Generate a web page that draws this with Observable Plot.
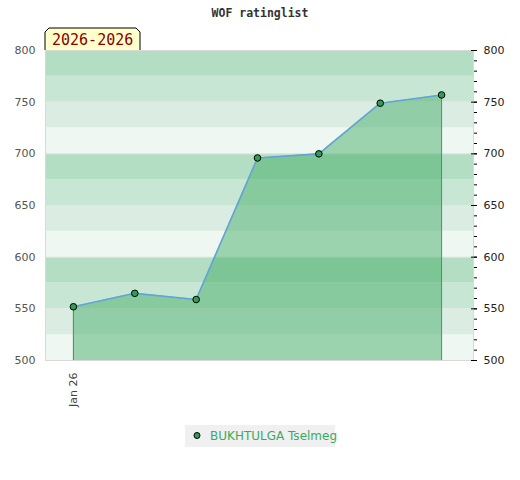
<!DOCTYPE html>
<html><head><meta charset="utf-8">
<script src="https://cdn.jsdelivr.net/npm/d3@7"></script>
<script src="https://cdn.jsdelivr.net/npm/@observablehq/plot@0.6"></script>
<style>body{margin:0;background:#fff;}</style>
</head><body><div id="chart"></div>
<script>
const rounds = [1, 2, 3, 4, 5, 6, 7];
const ratings = [552, 565, 559, 696, 700, 749, 757];
const xTickRounds = [1];
const xTickLabels = ["Jan 26"];
const yMajorTicks = [500, 550, 600, 650, 700, 750, 800];
const yMinorTicks = d3.range(500, 801, 10);
const bandStarts = d3.range(500, 800, 25);
const bandShades = ["#eef7f1", "#dbede2", "#c8e6d4", "#b3dec4"];
const title = "WOF ratinglist";
const periodLabel = "2026-2026";
const playerName = "BUKHTULGA Tselmeg";

const data = rounds.map((r, i) => ({round: r, rating: ratings[i]}));
const bands = bandStarts.map((s, i) => ({y1: s, y2: s + 25, shade: bandShades[i % 4]}));
const ends = [data[0], data[data.length - 1]];

const plot = Plot.plot({
  width: 520, height: 480,
  marginTop: 50, marginBottom: 120, marginLeft: 45, marginRight: 47,
  style: {fontFamily: "DejaVu Sans", fontSize: "11px", background: "#fff"},
  x: {type: "linear", domain: [0.545, 7.52], axis: null},
  y: {domain: [500, 800], axis: null},
  color: {type: "identity"},
  marks: [
    Plot.rect(bands, {y1: "y1", y2: "y2", fill: "shade"}),
    Plot.ruleY(yMajorTicks, {stroke: "#e2e6e3", strokeWidth: 1}),
    Plot.areaY(data, {x: "round", y1: 500, y2: "rating", fill: "#3fab62", fillOpacity: 0.475}),
    Plot.ruleX(ends, {x: "round", y1: 500, y2: "rating", stroke: "#3a9a5a", strokeWidth: 1}),
    Plot.line(data, {x: "round", y: "rating", stroke: "#62a4d8", strokeWidth: 1.6}),
    Plot.dot(data, {x: "round", y: "rating", r: 3.3, fill: "#2e9e55", stroke: "#000", strokeWidth: 1}),
    Plot.frame({stroke: "#d9d9d9"}),
    Plot.axisY({anchor: "left", ticks: yMajorTicks, tickSize: 0, tickPadding: 10, fill: "#555", fontSize: 11, label: null}),
    Plot.axisY({anchor: "right", ticks: yMinorTicks, tickSize: 3, text: null, stroke: "#000", label: null}),
    Plot.axisY({anchor: "right", ticks: yMajorTicks, tickSize: 6, tickPadding: 7, fill: "#222", stroke: "#000", fontSize: 11, dx: -3, label: null}),
    Plot.axisX({ticks: xTickRounds, tickFormat: (d) => xTickLabels[xTickRounds.indexOf(d)], tickRotate: -90, tickSize: 0, tickPadding: 12, fill: "#444", fontSize: 11, label: null})
  ]
});
document.getElementById("chart").appendChild(plot);

const svg = d3.select(plot);
svg.append("text").attr("x", 260).attr("y", 17).attr("text-anchor", "middle")
  .attr("font-family", "DejaVu Sans Mono").attr("font-weight", "bold").attr("font-size", 11.5)
  .attr("fill", "#333").text(title);

svg.append("path").attr("d", "M45,50L45,32L49,28L136,28L140,32L140,50")
  .attr("fill", "#ffffcc").attr("stroke", "#000").attr("stroke-width", 1);
svg.append("text").attr("x", 52).attr("y", 45).attr("text-anchor", "start")
  .attr("font-family", "DejaVu Sans Mono").attr("font-size", 15)
  .attr("fill", "#8b0000").text(periodLabel);

const lg = svg.append("g");
lg.append("rect").attr("x", 185).attr("y", 425).attr("width", 150).attr("height", 22).attr("fill", "#f0f0f0");
lg.append("circle").attr("cx", 197).attr("cy", 435.5).attr("r", 3).attr("fill", "#2e9e55").attr("stroke", "#000");
lg.append("text").attr("x", 210).attr("y", 440).attr("text-anchor", "start").attr("font-family", "DejaVu Sans").attr("font-size", 12)
  .attr("fill", "#3aaa5f").text(playerName);
</script>
</body></html>
